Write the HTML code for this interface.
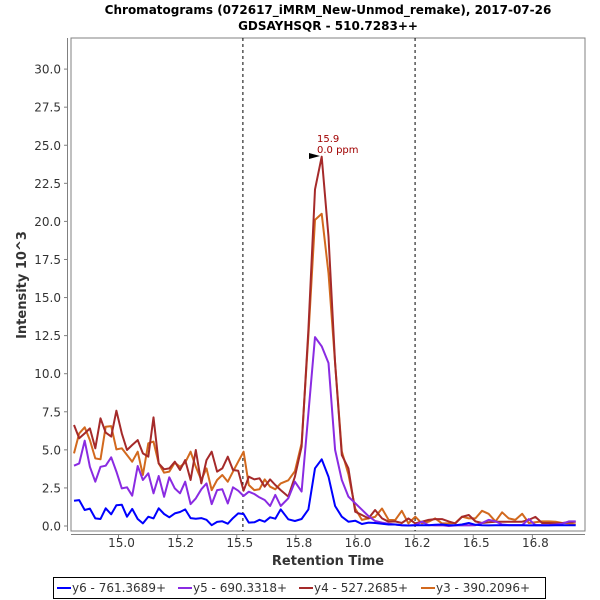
<!DOCTYPE html>
<html><head><meta charset="utf-8"><style>
html,body{margin:0;padding:0;background:#fff;}
svg{display:block;font-family:"DejaVu Sans","Liberation Sans",sans-serif;}
</style></head><body>
<svg id="chart" width="600" height="600" xmlns="http://www.w3.org/2000/svg">
<text x="328" y="14" text-anchor="middle" font-size="12" font-weight="bold" fill="#000">Chromatograms (072617_iMRM_New-Unmod_remake), 2017-07-26</text>
<text x="328" y="30" text-anchor="middle" font-size="12" font-weight="bold" fill="#000">GDSAYHSQR - 510.7283++</text>
<rect x="71" y="38" width="514" height="493" fill="#fff" stroke="#808080" stroke-width="1"/>
<line x1="67.5" y1="38" x2="67.5" y2="531" stroke="#808080"/>
<line x1="71" y1="534.5" x2="585" y2="534.5" stroke="#808080"/>
<g id="yticks"></g><g id="xticks"></g><g id="markers"></g><g id="series"></g>
<text transform="translate(26,285) rotate(-90)" text-anchor="middle" font-size="13" font-weight="bold" fill="#333">Intensity 10^3</text>
<text x="328" y="565" text-anchor="middle" font-size="13" font-weight="bold" fill="#333">Retention Time</text>
<g>
<polygon points="309,153 320,156 309,159" fill="#000"/>
<text x="317" y="142" font-size="10" fill="#a00000">15.9</text>
<text x="317" y="153" font-size="10" fill="#a00000">0.0 ppm</text>
</g>
<g>
<rect x="53.5" y="577.5" width="492" height="21" fill="#fff" stroke="#000"/>
<g id="legend"></g>
</g>
</svg>
<script>
const yTicks=[0,2.5,5,7.5,10,12.5,15,17.5,20,22.5,25,27.5,30];
const yTickLabels=["0.0","2.5","5.0","7.5","10.0","12.5","15.0","17.5","20.0","22.5","25.0","27.5","30.0"];
const xTicks=[15.0,15.25,15.5,15.75,16.0,16.25,16.5,16.75];
const xTickLabels=["15.0","15.2","15.5","15.8","16.0","16.2","16.5","16.8"];
const markerTimes=[15.526,16.254];
const times=[14.812,14.834,14.857,14.879,14.902,14.924,14.946,14.969,14.991,15.014,
15.036,15.058,15.081,15.103,15.126,15.148,15.170,15.193,15.215,15.238,
15.260,15.282,15.305,15.327,15.350,15.372,15.394,15.417,15.439,15.462,
15.484,15.506,15.529,15.551,15.574,15.596,15.618,15.641,15.663,15.686,
15.718,15.746,15.774,15.803,15.831,15.859,15.888,15.916,15.944,15.972,16.001,16.029,16.057,16.085,16.114,16.142,
16.170,16.198,16.226,16.255,16.283,16.311,16.339,16.368,16.396,16.424,16.452,16.481,16.509,16.537,16.565,16.594,16.622,16.650,16.678,16.707,16.735,16.763,16.791,16.820,16.848,16.876,16.904,16.933];
const seriesNames=["y6 - 761.3689+","y5 - 690.3318+","y4 - 527.2685+","y3 - 390.2096+"];
const y6=[1.66,1.70,1.05,1.14,0.50,0.46,1.16,0.77,1.36,1.40,0.61,1.12,0.46,0.17,0.61,0.50,1.16,0.79,0.57,0.83,0.92,1.09,0.52,0.48,0.52,0.41,0.05,0.27,0.31,0.15,0.52,0.83,0.79,0.22,0.24,0.41,0.28,0.57,0.48,1.09,
0.44,0.33,0.46,1.09,3.79,4.38,3.24,1.31,0.61,0.28,0.35,0.13,0.22,0.20,0.15,0.10,
0.1,0.05,0.03,0.05,0.05,0.05,0.08,0.1,0.05,0.05,0.1,0.2,0.08,0.05,0.04,0.05,0.05,0.05,0.05,0.05,0.04,0.05,0.04,0.04,0.05,0.05,0.05,0.05];
const y5=[3.96,4.11,5.60,3.89,2.91,3.89,3.96,4.51,3.57,2.47,2.54,1.99,3.94,3.02,3.46,2.15,3.28,1.92,3.20,2.47,2.15,2.91,1.44,1.81,2.41,2.80,1.44,2.36,2.41,1.48,2.54,2.32,1.97,2.25,2.10,1.88,1.71,1.31,2.04,1.31,
1.82,2.91,2.26,7.4,12.4,11.8,10.7,5.0,3.02,1.93,1.5,1.07,0.65,0.33,0.22,0.15,
0.1,0.05,0.03,0.06,0.28,0.06,0.04,0.05,0.0,0.04,0.05,0.04,0.05,0.2,0.4,0.3,0.1,0.06,0.06,0.06,0.45,0.06,0.06,0.06,0.1,0.15,0.3,0.3];
const y4=[6.63,5.76,6.08,6.41,5.10,7.07,6.13,5.87,7.57,6.08,4.99,5.32,5.64,4.77,4.55,7.13,4.11,3.72,3.78,4.22,3.68,4.33,3.02,4.99,2.80,4.33,4.88,3.57,3.78,4.55,3.68,3.63,2.32,3.24,3.06,3.13,2.58,3.06,2.69,2.36,
1.93,3.24,5.21,12.9,22.1,24.25,19.0,10.7,4.66,3.79,0.94,0.72,0.5,1.05,0.5,0.28,
0.3,0.2,0.5,0.17,0.28,0.4,0.45,0.45,0.3,0.17,0.6,0.72,0.3,0.2,0.25,0.28,0.28,0.28,0.28,0.28,0.4,0.6,0.2,0.2,0.17,0.2,0.25,0.28];
const y3=[4.77,6.08,6.48,5.64,4.44,4.38,6.52,6.56,5.03,5.10,4.66,4.22,4.88,3.35,5.43,5.54,4.11,3.50,3.57,4.16,3.89,4.16,4.88,3.89,3.02,3.78,2.36,3.02,3.35,2.91,3.57,4.22,4.88,2.69,2.36,2.41,3.06,2.58,2.41,2.80,
3.0,3.6,5.43,12.5,20.1,20.5,16.6,10.7,4.9,3.4,1.15,0.4,0.5,0.6,1.15,0.4,
0.39,1.0,0.17,0.61,0.17,0.28,0.5,0.17,0.17,0.2,0.61,0.5,0.5,1.0,0.8,0.3,0.9,0.5,0.4,0.8,0.2,0.25,0.3,0.3,0.28,0.2,0.17,0.1];
const seriesColors=["#0000ff","#8a2be2","#a52a2a","#d2691e"];

const NS="http://www.w3.org/2000/svg";
function xScale(t){return 355+(t-16)*236.5;}
function yScale(v){return 526-v*15.23;}
function mk(tag,attrs,parent){const e=document.createElementNS(NS,tag);for(const k in attrs)e.setAttribute(k,attrs[k]);parent.appendChild(e);return e;}

const yg=document.getElementById('yticks');
yTicks.forEach((v,i)=>{
  const y=yScale(v);
  const tk=mk('line',{x1:64,x2:67.5,y1:y,y2:y,stroke:'#808080'},yg);
  
  
  const tx=mk('text',{x:61,y:y+4.5,'text-anchor':'end','font-size':12,fill:'#333'},yg);
  
  
  tx.textContent=yTickLabels[i];
});
const xg=document.getElementById('xticks');
xTicks.forEach((t,i)=>{
  const x=xScale(t);
  const tk=mk('line',{x1:x,x2:x,y1:534.5,y2:538,stroke:'#808080'},xg);
  
  
  const tx=mk('text',{x:x+3,y:547,'text-anchor':'middle','font-size':12,fill:'#333'},xg);
  
  
  tx.textContent=xTickLabels[i];
});
const mg=document.getElementById('markers');
markerTimes.forEach(t=>{
  const x=xScale(t);
  const l=mk('line',{x1:x,x2:x,y1:38,y2:531,stroke:'#000','stroke-dasharray':'3,3','stroke-width':1},mg);
  
  
});
const sg=document.getElementById('series');
const allSeries=[y6,y5,y4,y3];
const order=[3,2,1,0];
order.forEach(si=>{
  const vals=allSeries[si];
  const pts=vals.map((v,i)=>xScale(times[i]).toFixed(1)+','+yScale(v).toFixed(1)).join(' ');
  const p=mk('polyline',{points:pts,fill:'none',stroke:seriesColors[si],'stroke-width':2,'stroke-linejoin':'round'},sg);
  
  
});
const lg=document.getElementById('legend');
const legendX=[57,178,299,421];
seriesNames.forEach((n,i)=>{
  const g=mk('g',{},lg);
  
  
  mk('line',{x1:legendX[i],x2:legendX[i]+14,y1:588,y2:588,stroke:seriesColors[i],'stroke-width':2},g);
  const t=mk('text',{x:legendX[i]+15,y:592,'font-size':12,fill:'#333'},g);
  t.textContent=n;
});
</script>
</body></html>
